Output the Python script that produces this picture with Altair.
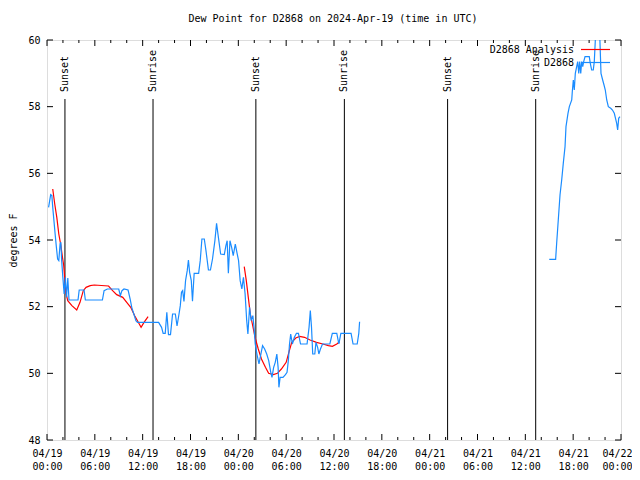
import altair as alt
import pandas as pd

FONT = "DejaVu Sans Mono"
TITLE = "Dew Point for D2868 on 2024-Apr-19 (time in UTC)"

# hours since 2024-04-19 00:00 UTC, dew point (deg F)
blue1_h = [0.20, 0.46, 0.61, 0.72, 0.87, 1.02, 1.18, 1.33, 1.48, 1.64, 1.74, 1.84, 1.99, 2.15, 2.30,
           2.45, 2.61, 2.76, 3.89, 4.04, 4.65, 4.81, 6.95, 7.16, 7.57, 9.00, 9.20, 9.40, 9.66, 10.17,
           10.43, 10.63, 10.89, 11.15, 11.35, 11.81, 14.00, 14.37, 14.57, 14.83, 15.03, 15.24, 15.49,
           15.75, 16.10, 16.31, 16.56, 16.72, 16.87, 17.02, 17.18, 17.38, 17.59, 17.74, 17.89, 18.10,
           18.25, 18.46, 19.02, 19.22, 19.43, 19.73, 19.94, 20.25, 20.50, 20.76, 21.06, 21.27, 21.47,
           21.78, 22.24, 22.44, 22.60, 22.75, 22.95, 23.16, 23.36, 23.62, 23.82, 24.03, 24.23, 24.44,
           24.64, 24.85, 25.05, 25.20, 25.41, 25.61, 25.82, 25.97, 26.12, 26.33, 26.59, 26.79, 27.04,
           27.30, 27.56, 27.81, 28.07, 28.22, 28.43, 28.63, 28.83, 28.99, 29.09, 29.24, 29.60, 29.91,
           30.11, 30.27, 30.42, 30.57, 30.78, 31.03, 31.29, 31.54, 31.80, 32.62, 32.87, 33.03, 33.18,
           33.33, 33.59, 33.74, 33.95, 34.10, 34.30, 34.56, 35.48, 35.79, 36.35, 36.61, 36.86, 38.14,
           38.39, 38.91, 39.11, 39.21]
blue1_v = [54.98, 55.36, 55.33, 54.98, 54.58, 54.18, 53.78, 53.43, 53.38, 53.88, 53.93, 53.38, 52.88, 52.38, 52.88,
           52.28, 52.86, 52.20, 52.20, 52.50, 52.50, 52.20, 52.20, 52.48, 52.53, 52.53, 52.33, 52.48, 52.53, 52.50,
           52.23, 51.98, 51.78, 51.58, 51.53, 51.53, 51.53, 51.38, 51.20, 51.20, 51.83, 51.16, 51.16,
           51.78, 51.78, 51.42, 51.78, 52.03, 52.43, 52.48, 52.16, 52.78, 53.08, 53.40, 53.03, 52.78,
           52.16, 53.00, 53.00, 53.38, 54.03, 54.03, 53.68, 53.10, 53.10, 53.43, 53.98, 54.50, 54.13,
           53.58, 53.56, 53.83, 53.98, 53.00, 53.98, 53.78, 53.53, 53.88, 53.63, 53.38, 52.78, 52.53,
           52.88, 52.38, 51.58, 51.18, 51.98, 51.58, 51.73, 51.38, 50.88, 50.58, 50.28, 50.53, 50.83,
           50.73, 50.58, 50.38, 50.03, 49.88, 50.18, 50.33, 50.58, 50.18, 49.58, 49.88, 49.88, 49.96,
           50.03, 50.38, 50.88, 51.18, 50.88, 51.08, 51.20, 51.20, 50.88, 50.88, 51.38, 51.88, 51.38,
           50.58, 50.58, 50.93, 50.78, 50.58, 50.73, 50.88, 50.88, 51.20, 51.20, 50.88, 51.20, 51.20,
           50.88, 50.88, 51.20, 51.55]

blue2_h = [63.00, 63.80, 63.93, 64.06, 64.35, 64.56, 64.76, 64.98, 65.10, 65.35, 65.52, 65.82, 65.89,
           66.02, 66.14, 66.27, 66.44, 66.57, 66.70, 66.82, 66.95, 67.07, 67.20, 67.32, 67.49, 68.02,
           68.15, 68.32, 68.52, 68.65, 68.78, 68.93, 69.30, 69.49, 69.70, 69.87, 70.03, 70.21, 70.41,
           70.71, 70.93, 71.16, 71.46, 71.58, 71.71, 71.87]
blue2_v = [53.42, 53.42, 53.90, 54.35, 55.35, 55.80, 56.30, 56.80, 57.40, 57.80, 58.00, 58.20, 58.45,
           58.80, 58.50, 59.00, 59.20, 59.35, 59.00, 59.35, 59.00, 59.35, 59.20, 59.35, 59.50, 59.50,
           59.30, 59.10, 59.10, 59.35, 60.00, 60.40, 60.40, 59.00, 58.80, 58.65, 58.50, 58.20, 58.00,
           57.95, 57.90, 57.80, 57.50, 57.30, 57.65, 57.70]

red1_h = [0.72, 0.97, 1.23, 1.48, 1.74, 1.94, 2.10, 2.25, 2.40, 2.60, 3.12, 3.73, 4.14, 4.55, 4.90,
          5.42, 5.93, 7.72, 8.23, 8.74, 9.50, 10.00, 10.50, 11.00, 11.45, 11.80, 12.17, 12.68]
red1_v = [55.53, 55.08, 54.68, 54.18, 53.83, 53.48, 53.23, 52.78, 52.38, 52.18, 52.03, 51.90, 52.13, 52.48, 52.58,
          52.63, 52.65, 52.62, 52.48, 52.36, 52.28, 52.13, 51.98, 51.73, 51.53, 51.38, 51.53, 51.70]

red2_h = [24.74, 25.00, 25.25, 25.50, 25.76, 26.10, 26.50, 26.90, 27.40, 27.80, 28.40, 28.90, 29.40,
          30.00, 30.40, 30.70, 31.20, 31.70, 32.30, 33.00, 33.80, 34.60, 35.30, 35.80, 36.35, 36.70]
red2_v = [53.20, 52.78, 52.28, 51.78, 51.48, 51.08, 50.73, 50.43, 50.18, 50.00, 49.96, 50.00, 50.13,
          50.33, 50.68, 50.93, 51.06, 51.11, 51.08, 51.00, 50.93, 50.88, 50.83, 50.81, 50.88, 50.95]

sun_h = [2.25, 13.3, 26.2, 37.3, 50.25, 61.3]
sun_lbl = ["Sunset", "Sunrise", "Sunset", "Sunrise", "Sunset", "Sunrise"]

x_major = list(range(0, 73, 6))
x_minor = [h for h in range(0, 73, 2) if h % 6 != 0]
y_ticks = [48, 50, 52, 54, 56, 58, 60]

legend_names = ["D2868 Analysis", "D2868"]
BLUE = "#1a8cff"
RED = "#ff0000"

blue = pd.concat([
    pd.DataFrame({"h": blue1_h, "v": blue1_v, "seg": 1}),
    pd.DataFrame({"h": blue2_h, "v": blue2_v, "seg": 2}),
])
red = pd.concat([
    pd.DataFrame({"h": red1_h, "v": red1_v, "seg": 1}),
    pd.DataFrame({"h": red2_h, "v": red2_v, "seg": 2}),
])
sun = pd.DataFrame({"h": sun_h, "lbl": sun_lbl})
xmaj = pd.DataFrame({"h": x_major})
xmin = pd.DataFrame({"h": x_minor})
yt = pd.DataFrame({"v": y_ticks})

label_expr = ("['04/' + (19 + floor(datum.value/24)), "
              "(datum.value % 24 < 10 ? '0' : '') + (datum.value % 24) + ':00']")

X = alt.X("h:Q", scale=alt.Scale(domain=[0, 72], nice=False, zero=False),
          axis=alt.Axis(values=x_major, labelExpr=label_expr, ticks=False, domain=False,
                        grid=False, labelFont=FONT, labelFontSize=10, labelColor="black",
                        labelPadding=8, labelBaseline="top", labelLineHeight=13,
                        labelOffset={"condition": {"test": "datum.value == 72", "value": -4},
                                     "value": 0},
                        labelFlush=False, labelOverlap=False, title=None))
Y = alt.Y("v:Q", scale=alt.Scale(domain=[48, 60], nice=False, zero=False),
          axis=alt.Axis(values=y_ticks, ticks=False, domain=False, grid=False,
                        labelFont=FONT, labelFontSize=10, labelColor="black", labelPadding=7,
                        title="degrees F", titleFont=FONT, titleFontSize=10,
                        titleFontWeight="normal", titleColor="black", titleAngle=270,
                        titleX=-34, titleY=200, titleAlign="center", titleBaseline="middle"))

blue_line = alt.Chart(blue).mark_line(color=BLUE, strokeWidth=1.2, clip=True, interpolate="linear").encode(
    x=X, y=Y, detail="seg:N", order="h:Q")
red_line = alt.Chart(red).mark_line(color=RED, strokeWidth=1.2, clip=True).encode(
    x=X, y=Y, detail="seg:N", order="h:Q")

sun_rules = alt.Chart(sun).mark_rule(color="black", strokeWidth=1).encode(
    x=X, y=alt.value(59), y2=alt.value(400))
sun_text = alt.Chart(sun).mark_text(angle=270, align="left", baseline="middle", font=FONT,
                                    fontSize=10, color="black").encode(
    x=X, y=alt.value(52), text="lbl:N")

bot_major = alt.Chart(xmaj).mark_rule(color="black").encode(x=X, y=alt.value(394), y2=alt.value(400))
top_major = alt.Chart(xmaj).mark_rule(color="black").encode(x=X, y=alt.value(0), y2=alt.value(6))
bot_minor = alt.Chart(xmin).mark_rule(color="black").encode(x=X, y=alt.value(397), y2=alt.value(400))
top_minor = alt.Chart(xmin).mark_rule(color="black").encode(x=X, y=alt.value(0), y2=alt.value(3))
left_t = alt.Chart(yt).mark_rule(color="black").encode(y=Y, x=alt.value(0), x2=alt.value(6))
right_t = alt.Chart(yt).mark_rule(color="black").encode(y=Y, x=alt.value(568), x2=alt.value(574))

title_df = pd.DataFrame({"t": [TITLE]})
title_mark = alt.Chart(title_df).mark_text(align="center", baseline="middle", font=FONT, fontSize=10,
                                           color="black").encode(
    text="t:N", x=alt.value(286), y=alt.value(-21))

leg_df1 = pd.DataFrame({"t": [legend_names[0]]})
leg_df2 = pd.DataFrame({"t": [legend_names[1]]})
leg_t1 = alt.Chart(leg_df1).mark_text(align="right", baseline="middle", font=FONT, fontSize=10,
                                      color="black").encode(text="t:N", x=alt.value(527), y=alt.value(10))
leg_t2 = alt.Chart(leg_df2).mark_text(align="right", baseline="middle", font=FONT, fontSize=10,
                                      color="black").encode(text="t:N", x=alt.value(527), y=alt.value(23))
leg_r1 = alt.Chart(leg_df1).mark_rule(color=RED, strokeWidth=1.2).encode(
    x=alt.value(534), x2=alt.value(563), y=alt.value(9.5))
leg_r2 = alt.Chart(leg_df2).mark_rule(color=BLUE, strokeWidth=1.2).encode(
    x=alt.value(534), x2=alt.value(563), y=alt.value(22.5))

chart = alt.layer(
    sun_rules, sun_text, red_line, blue_line,
    bot_major, top_major, bot_minor, top_minor, left_t, right_t,
    title_mark, leg_t1, leg_t2, leg_r1, leg_r2,
).properties(
    width=574, height=400,
    autosize=alt.AutoSizeParams(type="none"),
    padding={"left": 39, "top": 32, "right": 11, "bottom": 32},
).configure_view(stroke="black", strokeWidth=1).configure(background="white")

chart.save("out.html", embed_options={"renderer": "svg", "actions": False})
